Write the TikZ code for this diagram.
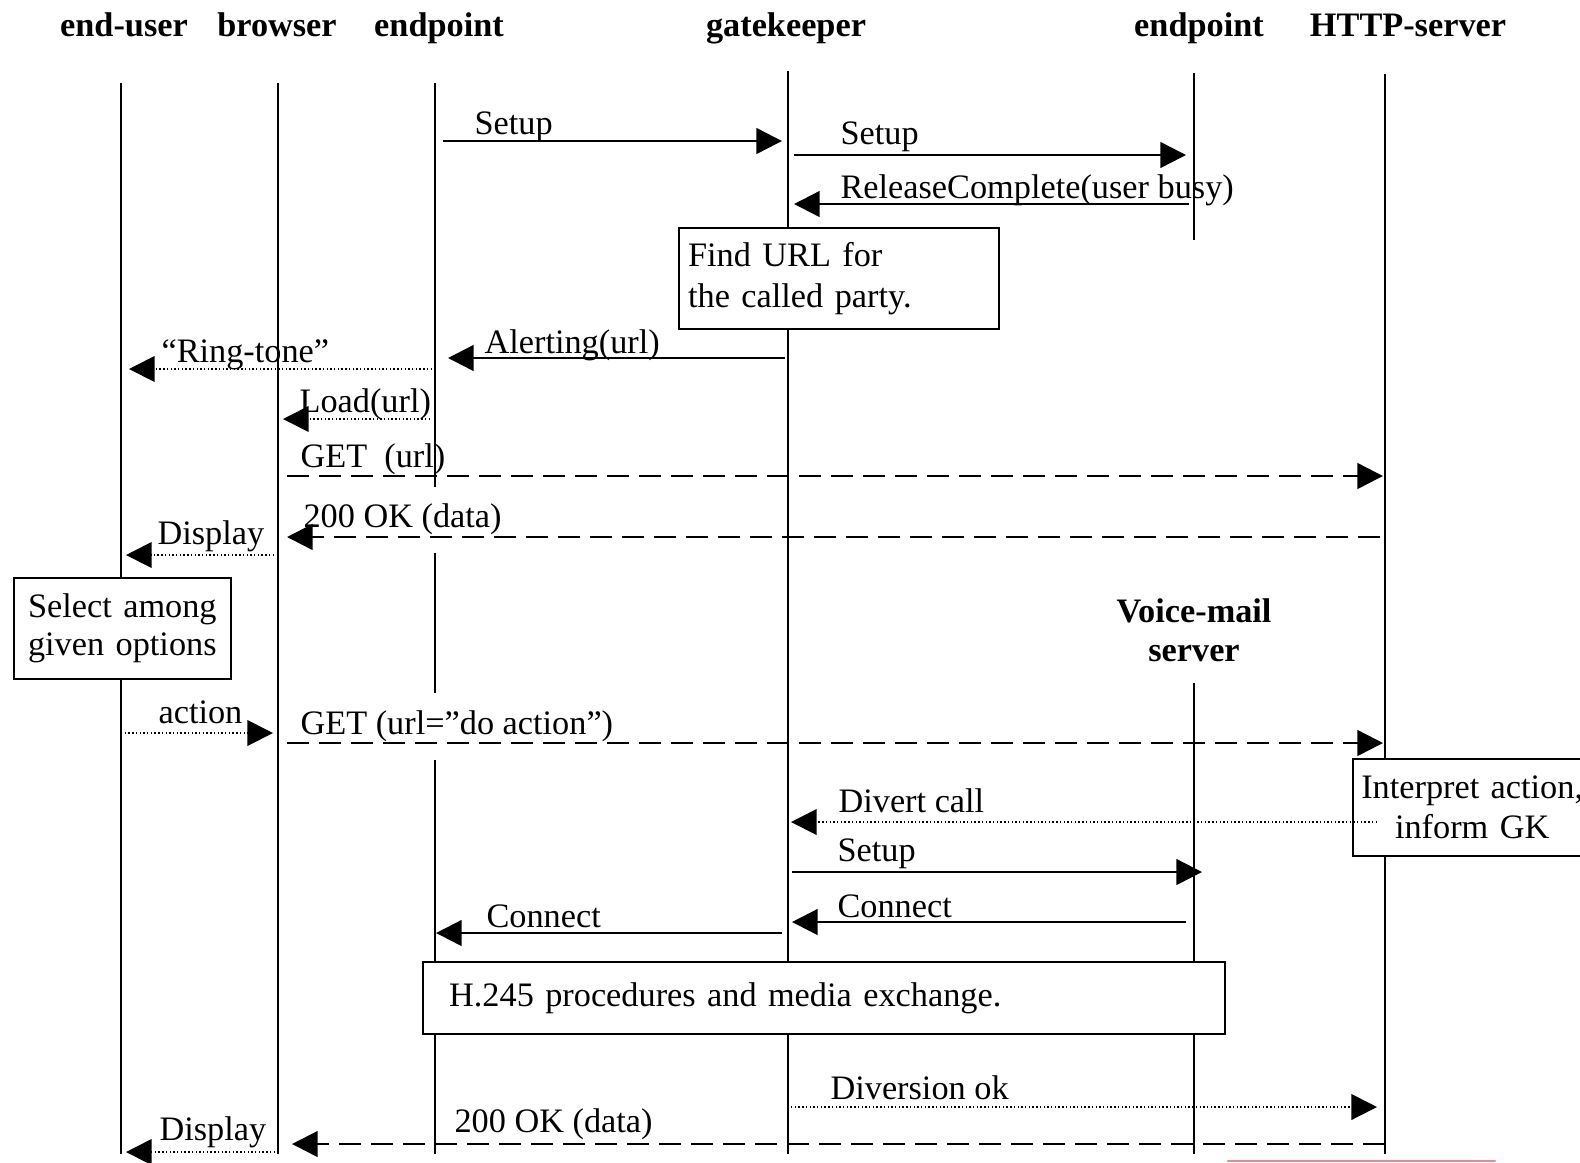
\documentclass[tikz,border=0pt]{standalone}
\usepackage{fontspec}
\setmainfont{Liberation Serif}
\usetikzlibrary{arrows.meta}
\definecolor{marker}{RGB}{226,140,140}

\begin{document}
\begin{tikzpicture}[x=0.35pt,y=-0.35pt,
  every node/.style={inner sep=0pt,font=\fontsize{12}{14}\selectfont},
  head/.style={font=\fontsize{12}{13.3}\selectfont\bfseries,anchor=base},
  lbl/.style={anchor=base west},
  life/.style={line width=0.75pt},
  msg/.style={line width=0.85pt,-{Triangle[length=9pt,width=9pt]}},
  dashmsg/.style={msg,dash pattern=on 7.7pt off 3.5pt},
  dotmsg/.style={msg,line width=0.65pt,dash pattern=on 0.5pt off 0.8pt},
  note/.style={draw,fill=white,line width=0.8pt,anchor=north west,inner ysep=0pt},
]
\useasboundingbox (0,0) rectangle (1580,1162);
\clip (0,0) rectangle (1580,1162);

% participant headings
\node[head] (h-eu)   at (124,36)  {end-user};
\node[head] (h-br)   at (277,36)  {browser};
\node[head] (h-ep)   at (439,36)  {endpoint};
\node[head] (h-gk)   at (786,36)  {gatekeeper};
\node[head] (h-ep2)  at (1199,36) {endpoint};
\node[head] (h-http) at (1408,36) {HTTP-server};
\node[font=\fontsize{12}{13.8}\selectfont\bfseries,align=center,anchor=north]
  (h-vm) at (1194,598) {Voice-mail\\server};

% lifeline tops
\coordinate (eu)   at (121,83);
\coordinate (br)   at (278,83);
\coordinate (ep)   at (435,83);
\coordinate (gk)   at (788,71);
\coordinate (ep2)  at (1194,73);
\coordinate (vm)   at (1194,683);
\coordinate (http) at (1385,74);

% lifelines
\draw[life] (eu) -- (eu|-0,1154);
\draw[life] (br) -- (br|-0,1154);
\draw[life] (ep) -- (ep|-0,487) (ep|-0,553) -- (ep|-0,693) (ep|-0,760) -- (ep|-0,1154);
\draw[life] (gk) -- (gk|-0,1154);
\draw[life] (ep2) -- (ep2|-0,240);
\draw[life] (vm) -- (vm|-0,1154);
\draw[life] (http) -- (http|-0,1154);

% activity notes
\node[note,text width=105.7pt,inner xsep=3.15pt,minimum height=35.35pt,align=left,
  font=\fontsize{12}{14.35}\selectfont] (findurl) at (678,227) {Find URL for\\the called party.};
\node[note,text width=76.1pt,inner xsep=0pt,minimum height=35.35pt,align=center,
  font=\fontsize{12}{13.3}\selectfont] (select) at (12.5,577) {Select among\\given options};
\node[note,text width=83.3pt,inner xsep=0pt,minimum height=33.95pt,align=center,
  font=\fontsize{12}{14}\selectfont] (interp) at (1352,758) {Interpret action,\\inform GK};
\node[note,text width=262.5pt,inner xsep=9.1pt,minimum height=25.2pt,align=left]
  (h245) at (422,961) {H.245 procedures and media exchange.};

% messages
\draw[msg,shorten <=2.8pt,shorten >=2.1pt] (ep|-0,141) -- (gk|-0,141);
\node[lbl] (m1) at (474,134) {Setup};

\draw[msg,shorten <=2.1pt,shorten >=2.8pt] (gk|-0,155) -- (ep2|-0,155);
\node[lbl] (m2) at (840,144) {Setup};

\draw[msg,shorten <=1.75pt,shorten >=2.1pt] (ep2|-0,204) -- (gk|-0,204);
\node[lbl] (m3) at (840,198) {ReleaseComplete(user busy)};

\draw[msg,shorten <=1.05pt,shorten >=4.55pt] (gk|-0,358) -- (ep|-0,358);
\node[lbl] (m4) at (484,353) {Alerting(url)};

\draw[dotmsg,shorten <=1.05pt,shorten >=2.8pt] (ep|-0,369) -- (eu|-0,369);
\node[lbl] (m5) at (161,362) {“Ring-tone”};

\draw[dotmsg,shorten <=1.75pt,shorten >=1.75pt] (ep|-0,419) -- (br|-0,419);
\node[lbl] (m6) at (299,412) {Load(url)};

\draw[dashmsg,shorten <=3.15pt,shorten >=0.7pt] (br|-0,476) -- (http|-0,476);
\node[lbl] (m7) at (300,467) {GET\ \ (url)};

\draw[dashmsg,shorten <=1.75pt,shorten >=3.15pt] (http|-0,537) -- (br|-0,537);
\node[lbl] (m8) at (303,527) {200 OK (data)};

\draw[dotmsg,shorten <=1.4pt,shorten >=1.75pt] (br|-0,555) -- (eu|-0,555);
\node[lbl] (m9) at (157,544) {Display};

\draw[dotmsg,shorten >=1.75pt] (eu|-0,733) -- (br|-0,733);
\node[lbl] (m10) at (158,723) {action};

\draw[dashmsg,shorten <=3.15pt,shorten >=0.7pt] (br|-0,743) -- (http|-0,743);
\node[lbl] (m11) at (300,734) {GET (url=”do action”)};

\draw[dotmsg,shorten <=2.8pt,shorten >=1.05pt] (http|-0,822) -- (gk|-0,822);
\node[lbl] (m12) at (838,812) {Divert call};

\draw[msg,shorten <=1.4pt,shorten >=-2.8pt] (gk|-0,872) -- (vm|-0,872);
\node[lbl] (m13) at (837,861) {Setup};

\draw[msg,shorten <=2.8pt,shorten >=1.4pt] (vm|-0,922) -- (gk|-0,922);
\node[lbl] (m14) at (837,917) {Connect};

\draw[msg,shorten <=2.1pt,shorten >=0.35pt] (gk|-0,933) -- (ep|-0,933);
\node[lbl] (m15) at (486,927) {Connect};

\draw[dotmsg,shorten <=1.05pt,shorten >=2.8pt] (gk|-0,1107) -- (http|-0,1107);
\node[lbl] (m16) at (830,1099) {Diversion ok};

\draw[dashmsg,shorten >=4.9pt] (http|-0,1144) -- (br|-0,1144);
\node[lbl] (m17) at (454,1132) {200 OK (data)};

\draw[dotmsg,shorten <=1.05pt,shorten >=1.75pt] (br|-0,1152) -- (eu|-0,1152);
\node[lbl] (m18) at (159,1140) {Display};

% marker stroke along the lower edge
\draw[marker,line width=0.9pt,line cap=round] (1228,1161) -- (1495,1161);
\end{tikzpicture}
\end{document}
